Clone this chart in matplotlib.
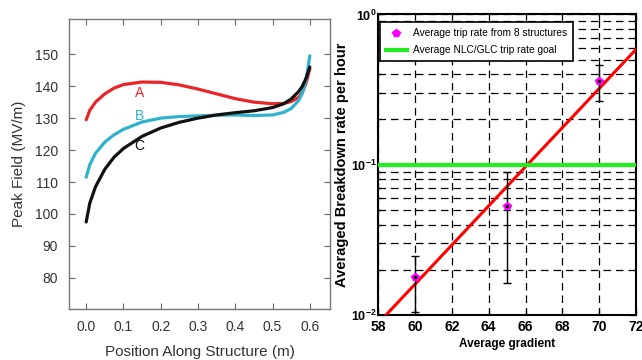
import matplotlib
matplotlib.use("Agg")
import matplotlib.pyplot as plt
from matplotlib.ticker import LogLocator, NullFormatter
import numpy as np

plt.rcParams['font.family'] = ['Liberation Sans', 'DejaVu Sans']

# ---- Left panel data: peak field along structure ----
pos = [0.0, 0.01, 0.025, 0.05, 0.075, 0.1, 0.15, 0.2, 0.25, 0.3, 0.35, 0.4, 0.45, 0.5, 0.53, 0.55, 0.57, 0.58, 0.59, 0.6]
field_a = [129.5, 132.5, 135.0, 137.6, 139.4, 140.5, 141.3, 141.2, 140.4, 139.1, 137.6, 136.1, 135.0, 134.5, 134.6, 135.2, 136.5, 138.0, 141.0, 145.5]
field_b = [111.5, 115.5, 119.0, 122.5, 124.8, 126.5, 128.8, 130.0, 130.5, 130.7, 130.9, 131.0, 130.8, 131.0, 131.8, 133.0, 135.5, 137.8, 142.0, 149.5]
field_c = [97.5, 103.5, 108.5, 114.0, 117.8, 120.5, 124.3, 126.9, 128.7, 130.0, 131.0, 131.7, 132.3, 133.3, 134.5, 136.0, 138.3, 140.0, 142.5, 146.0]
curve_labels = ['A', 'B', 'C']
curve_colors = ['#e8262a', '#2fb3cc', '#111111']
label_pos = [(0.13, 138.0), (0.13, 130.6), (0.13, 121.4)]
left_xticks = [0.0, 0.1, 0.2, 0.3, 0.4, 0.5, 0.6]
left_yticks = [80, 90, 100, 110, 120, 130, 140, 150]

# ---- Right panel data: breakdown rate vs gradient ----
grad = [60, 65, 70]
rate = [0.0179, 0.0533, 0.36]
rate_hi = [0.0248, 0.0898, 0.46]
rate_lo = [0.0105, 0.0164, 0.266]
fit_x = [58.0, 72.0]
fit_y = [0.0088, 0.587]
goal_rate = 0.1
right_xticks = [58, 60, 62, 64, 66, 68, 70, 72]

fig = plt.figure(figsize=(6.42, 3.6), dpi=100)

# Left axes
ax1 = fig.add_axes([0.1075, 0.142, 0.407, 0.805])
for ys, c in zip([field_a, field_b, field_c], curve_colors):
    ax1.plot(pos, ys, color=c, lw=2.3, solid_capstyle='round')
for lab, (lx, ly), c in zip(curve_labels, label_pos, curve_colors):
    ax1.text(lx, ly, lab, color=c, fontsize=10, ha='left', va='center')
ax1.set_xlim(-0.046, 0.655)
ax1.set_ylim(70.3, 161)
ax1.set_xticks(left_xticks)
ax1.set_xticklabels([f"{v:.1f}" for v in left_xticks])
ax1.set_yticks(left_yticks)
ax1.tick_params(direction='in', top=True, right=True, length=4, width=0.8,
                color='#666666', labelsize=10, labelcolor='#333333', pad=8)
for s in ax1.spines.values():
    s.set_color('#777777')
    s.set_linewidth(1.0)
ax1.set_xlabel('Position Along Structure (m)', fontsize=11, color='#333333', labelpad=8)
ax1.set_ylabel('Peak Field (MV/m)', fontsize=11, color='#333333', labelpad=6)

# Right axes
ax2 = fig.add_axes([0.589, 0.125, 0.402, 0.835])
ax2.set_yscale('log')
ax2.set_xlim(58, 72)
ax2.set_ylim(0.01, 1.0)
ax2.set_xticks(right_xticks)
ax2.yaxis.set_major_locator(LogLocator(base=10, numticks=5))
ax2.yaxis.set_minor_locator(LogLocator(base=10, subs=np.arange(2, 10), numticks=10))
ax2.yaxis.set_minor_formatter(NullFormatter())
dash = (0, (6, 4))
ax2.grid(True, which='major', axis='x', color='black', linestyle=dash, lw=0.9)
ax2.grid(True, which='both', axis='y', color='black', linestyle=dash, lw=0.9)
ax2.plot(fit_x, fit_y, color='red', lw=2.2, zorder=3)
ax2.axhline(goal_rate, color='#22ee22', lw=3.0, zorder=3, label='Average NLC/GLC trip rate goal')
yerr = [np.array(rate) - np.array(rate_lo), np.array(rate_hi) - np.array(rate)]
ax2.errorbar(grad, rate, yerr=yerr, fmt='none', ecolor='black', elinewidth=1.0,
             capsize=3, capthick=1.0, zorder=4)
ax2.plot(grad, rate, linestyle='none', marker='p', markersize=6, color='magenta',
         markeredgecolor='magenta', zorder=5, label='Average trip rate from 8 structures')
ax2.plot(grad, rate, linestyle='none', marker='o', markersize=1.5, color='black', zorder=6)
ax2.tick_params(which='both', direction='in', top=True, right=True, width=0.9)
ax2.tick_params(which='major', length=4)
ax2.tick_params(which='major', axis='x', labelsize=10)
ax2.tick_params(which='major', axis='y', labelsize=9, pad=1)
ax2.tick_params(which='minor', length=2)
for lbl in ax2.get_xticklabels() + ax2.get_yticklabels():
    lbl.set_fontweight('bold')
for s in ax2.spines.values():
    s.set_linewidth(1.5)
ax2.set_xlabel('Average gradient', fontsize=8.5, fontweight='bold', labelpad=3)
ax2.set_ylabel('Averaged Breakdown rate per hour', fontsize=10.5, fontweight='bold')
ax2.yaxis.set_label_coords(-0.112, 0.5)
handles, labels = ax2.get_legend_handles_labels()
order = [1, 0]
leg = ax2.legend([handles[i] for i in order], [labels[i] for i in order], loc='upper left',
                 prop={'size': 7.3}, frameon=True, fancybox=False,
                 edgecolor='black', framealpha=1, borderpad=0.6, handlelength=2.0,
                 labelspacing=0.7, handletextpad=0.6, borderaxespad=0,
                 bbox_to_anchor=(0.008, 0.974))
leg.get_frame().set_linewidth(1.2)

fig.savefig('out.png', dpi=100)
